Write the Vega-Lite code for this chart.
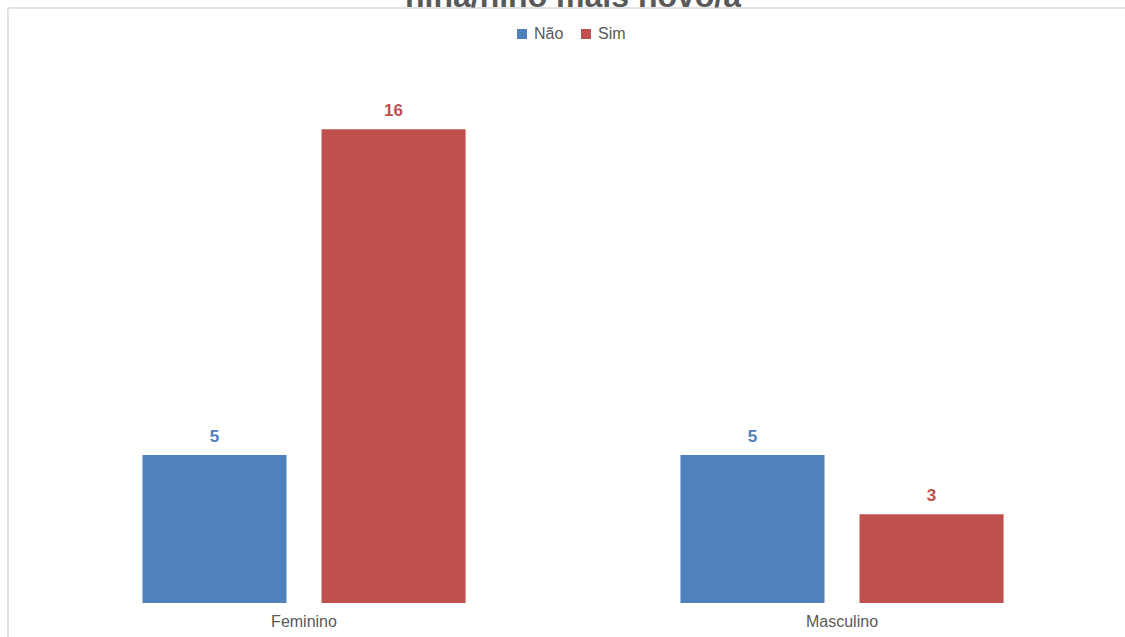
{
  "$schema": "https://vega.github.io/schema/vega-lite/v6.json",
  "width": 1120,
  "height": 632,
  "autosize": {"type": "none"},
  "padding": {"left": 8, "top": 8, "right": -3, "bottom": -3},
  "background": "#ffffff",
  "title": {
    "text": "nina/nino mais novo/a",
    "font": "Liberation Sans",
    "fontSize": 32,
    "fontWeight": "bold",
    "color": "#595959",
    "anchor": "middle",
    "baseline": "alphabetic",
    "frame": "group",
    "offset": 2,
    "dx": 5,
    "dy": 33
  },
  "data": {
    "values": [
      {"sexo": "Feminino", "resposta": "Não", "n": 5},
      {"sexo": "Feminino", "resposta": "Sim", "n": 16},
      {"sexo": "Masculino", "resposta": "Não", "n": 5},
      {"sexo": "Masculino", "resposta": "Sim", "n": 3}
    ]
  },
  "encoding": {
    "x": {
      "field": "sexo",
      "type": "nominal",
      "scale": {"paddingInner": 0, "paddingOuter": 0.0409, "align": 0.614},
      "axis": {
        "title": null,
        "labelAngle": 0,
        "domain": false,
        "ticks": false,
        "offset": -29,
        "labelPadding": 2,
        "labelFont": "Liberation Sans",
        "labelFontSize": 16,
        "labelColor": "#595959"
      }
    },
    "xOffset": {
      "field": "resposta",
      "type": "nominal",
      "scale": {"paddingInner": 0.1955, "paddingOuter": 0.6}
    },
    "y": {
      "field": "n",
      "type": "quantitative",
      "scale": {"domain": [-1.25, 20.1], "nice": false, "zero": false},
      "axis": null
    },
    "color": {
      "field": "resposta",
      "type": "nominal",
      "scale": {"domain": ["Não", "Sim"], "range": ["#4F81BD", "#C0504D"]},
      "legend": {
        "title": null,
        "orient": "none",
        "direction": "horizontal",
        "legendX": 506,
        "legendY": 18,
        "symbolType": "square",
        "symbolSize": 100,
        "symbolStrokeWidth": 0,
        "labelFont": "Liberation Sans",
        "labelFontSize": 16,
        "labelColor": "#595959",
        "labelOffset": 4,
        "columnPadding": 14
      }
    }
  },
  "layer": [
    {"mark": {"type": "bar", "y2": {"expr": "scale('y', 0)"}}},
    {
      "mark": {
        "type": "text",
        "baseline": "bottom",
        "dy": -9,
        "font": "Liberation Sans",
        "fontSize": 17,
        "fontWeight": "bold"
      },
      "encoding": {"text": {"field": "n", "type": "quantitative"}}
    }
  ],
  "config": {
    "view": {"stroke": "#D9D9D9", "strokeWidth": 1.5}
  }
}
